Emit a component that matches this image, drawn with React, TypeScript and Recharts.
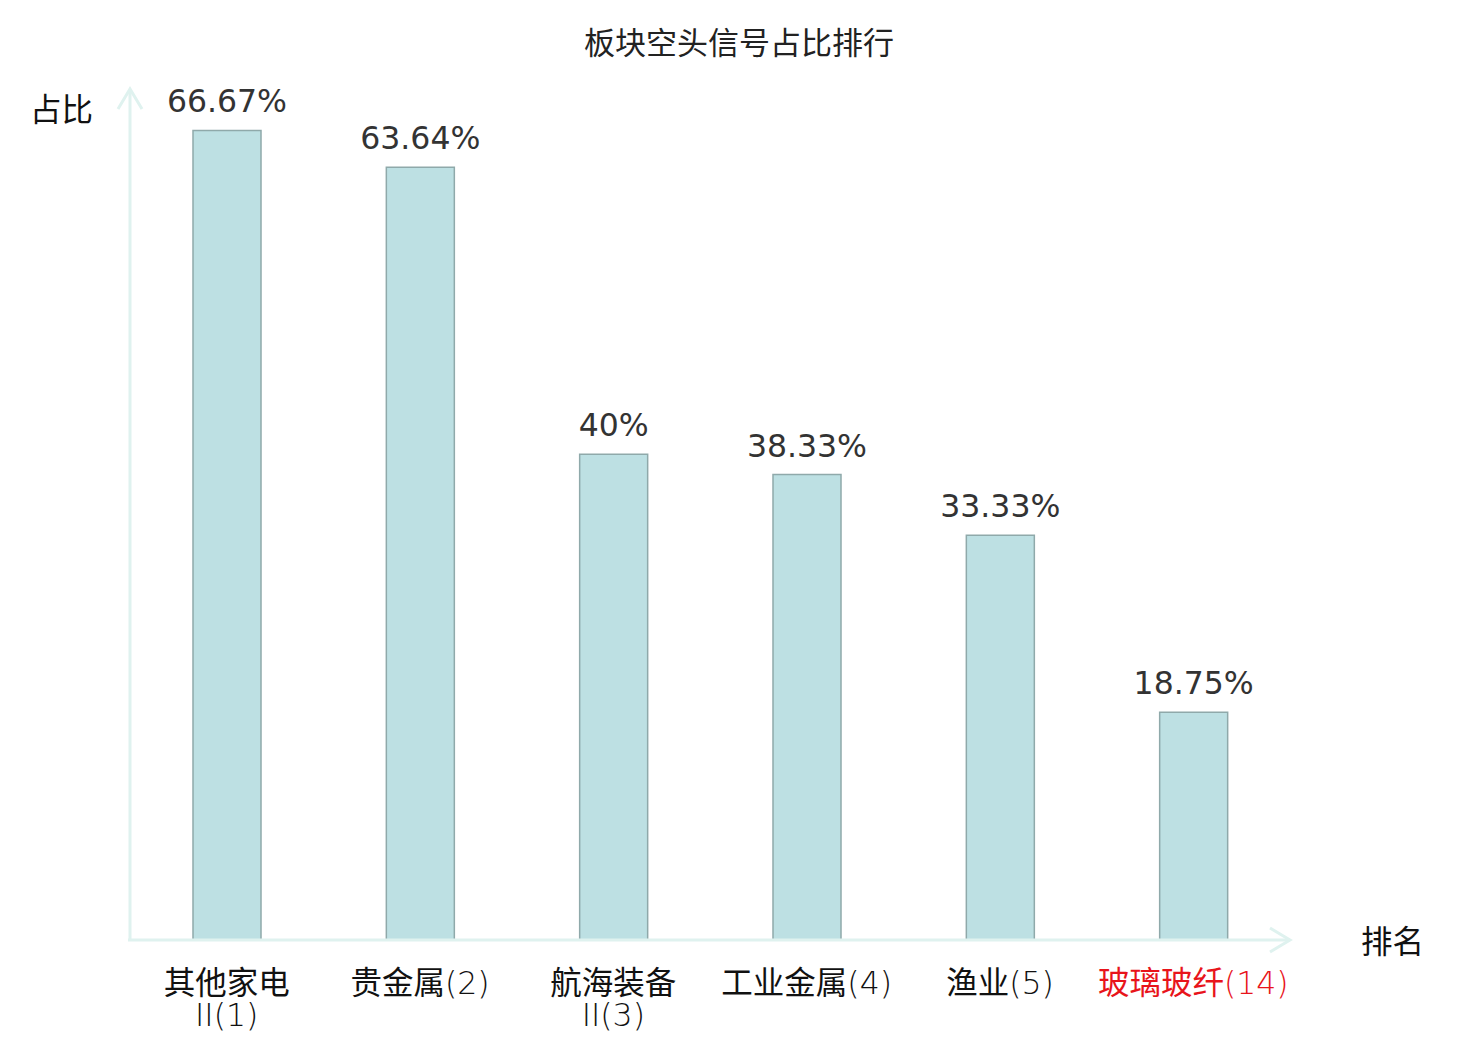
import React from 'react';
import { BarChart, Bar, XAxis, YAxis, LabelList } from 'recharts';

const title = '板块空头信号占比排行';
const categories = ['其他家电II(1)', '贵金属(2)', '航海装备II(3)', '工业金属(4)', '渔业(5)', '玻璃玻纤(14)'];
const values = [66.67, 63.64, 40, 38.33, 33.33, 18.75];
const valueLabels = ['66.67%', '63.64%', '40%', '38.33%', '33.33%', '18.75%'];
const highlighted = ['玻璃玻纤(14)'];
const yName = '占比';
const xName = '排名';

const data = categories.map((name, i) => ({ name, value: values[i], label: valueLabels[i] }));

const W = 1464;
const H = 1030;
const M = { top: 82, right: 182, bottom: 38, left: 122 };
const XH = 60;
const AXIS = '#dff2ef';
const FS = 31.5;
const CJK = '"Noto Sans CJK SC", "Noto Sans", sans-serif';
const NUM = '"DejaVu Sans", sans-serif';
const LIGHT = '"DejaVu Sans ExtraLight", "DejaVu Sans", sans-serif';

const isCJK = (c: string) => /[\u3000-\u9fff\uff00-\uffef]/.test(c);

const segments = (s: string) => {
  const out: { t: string; cjk: boolean }[] = [];
  for (const c of s) {
    const k = isCJK(c);
    if (out.length && out[out.length - 1].cjk === k) out[out.length - 1].t += c;
    else out.push({ t: c, cjk: k });
  }
  return out;
};

const Tick = (props: any) => {
  const { x, y, payload } = props;
  const v: string = payload.value;
  const red = highlighted.includes(v);
  const idx = v.indexOf('II');
  const lines = idx > 0 ? [v.slice(0, idx), v.slice(idx)] : [v];
  return (
    <text x={x} y={y + 54} textAnchor="middle" fontSize={FS} fill={red ? '#e8141b' : '#111'}>
      {lines.map((l, i) => (
        <tspan key={i} x={x} y={y + 54 + i * 32}>
          {segments(l).map((s, j) => (
            <tspan key={j} fontFamily={s.cjk ? CJK : LIGHT} fontWeight={s.cjk ? 400 : 200}>{s.t}</tspan>
          ))}
        </tspan>
      ))}
    </text>
  );
};

const Extras = (props: any) => {
  const vb = props.viewBox || {};
  const left = vb.x ?? M.left;
  const bottom = vb.y ?? H - M.bottom - XH;
  const right = left + (vb.width ?? W - M.left - M.right);
  const topArrow = M.top - 1;
  return (
    <g>
      <text x={W / 2 - 1} y={46} textAnchor="middle" fontFamily={CJK} fontSize={31} fill="#222">{title}</text>
      <line x1={left} y1={bottom} x2={left} y2={topArrow} stroke={AXIS} strokeWidth={3} />
      <polyline points={`${left - 12},${topArrow + 20} ${left},${topArrow} ${left + 12},${topArrow + 20}`} fill="none" stroke={AXIS} strokeWidth={3} />
      <line x1={left - 2} y1={bottom} x2={right} y2={bottom} stroke={AXIS} strokeWidth={3} />
      <polyline points={`${right - 20},${bottom - 12} ${right},${bottom} ${right - 20},${bottom + 12}`} fill="none" stroke={AXIS} strokeWidth={3} />
      <text x={left - 37} y={M.top + 31} textAnchor="end" fontFamily={CJK} fontSize={FS} fill="#111">{yName}</text>
      <text x={right + 71} y={bottom + 13} textAnchor="start" fontFamily={CJK} fontSize={FS} fill="#111">{xName}</text>
    </g>
  );
};

const ValueLabel = (props: any) => {
  const { x, y, width, value } = props;
  return (
    <text x={x + width / 2} y={y - 18} textAnchor="middle" fontFamily={NUM} fontSize={FS} fill="#333">{value}</text>
  );
};

export default function App() {
  return (
    <BarChart width={W} height={H} data={data} margin={M}>
      <YAxis hide domain={[0, 70]} />
      <XAxis
        dataKey="name"
        height={XH}
        axisLine={false}
        tickLine={false}
        tickSize={0}
        tickMargin={0}
        interval={0}
        tick={<Tick />}
        label={{ content: (p: any) => <Extras {...p} /> }}
      />
      <Bar dataKey="value" barSize={68} fill="#bde0e3" stroke="#8fa9aa" strokeWidth={1.5} isAnimationActive={false}>
        <LabelList dataKey="label" content={<ValueLabel />} />
      </Bar>
    </BarChart>
  );
}
